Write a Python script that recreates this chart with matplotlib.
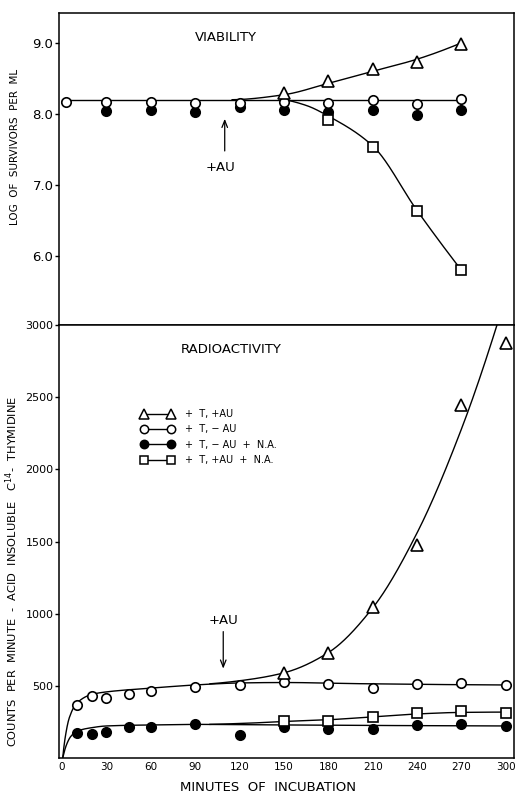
import numpy as np
import matplotlib
matplotlib.use("Agg")
import matplotlib.pyplot as plt
from matplotlib.lines import Line2D

plt.rcParams['font.family'] = ['DejaVu Sans']

# ---------------- data ----------------
# Viability panel (log survivors per ml)
viab_open_x = [3, 30, 60, 90, 120, 150, 180, 210, 240, 270]
viab_open_y = [8.17, 8.17, 8.17, 8.15, 8.16, 8.17, 8.15, 8.19, 8.14, 8.21]
viab_fill_x = [30, 60, 90, 120, 150, 180, 210, 240, 270]
viab_fill_y = [8.04, 8.06, 8.03, 8.10, 8.06, 8.02, 8.06, 7.99, 8.06]
viab_tri_x = [150, 180, 210, 240, 270]
viab_tri_y = [8.29, 8.46, 8.63, 8.73, 8.99]
viab_sq_x = [180, 210, 240, 270]
viab_sq_y = [7.92, 7.54, 6.64, 5.81]

# fitted curves (viability)
viab_ctrl_fit_x = [0, 270]
viab_ctrl_fit_y = [8.2, 8.2]
viab_tri_fit_x = [115, 150, 180, 210, 240, 270]
viab_tri_fit_y = [8.2, 8.27, 8.43, 8.60, 8.77, 9.0]
viab_sq_fit_x = [150, 165, 180, 210, 240, 270]
viab_sq_fit_y = [8.2, 8.12, 7.97, 7.55, 6.64, 5.80]

# Radioactivity panel (counts per minute)
rad_open_x = [10, 20, 30, 45, 60, 90, 120, 150, 180, 210, 240, 270, 300]
rad_open_y = [367, 430, 416, 444, 464, 492, 506, 525, 514, 485, 512, 520, 508]
rad_fill_x = [10, 20, 30, 45, 60, 90, 120, 150, 180, 210, 240, 270, 300]
rad_fill_y = [173, 166, 180, 213, 213, 236, 160, 213, 203, 203, 228, 233, 222]
rad_tri_x = [150, 180, 210, 240, 270, 300]
rad_tri_y = [590, 728, 1045, 1476, 2446, 2876]
rad_sq_x = [150, 180, 210, 240, 270, 300]
rad_sq_y = [256, 256, 286, 309, 328, 309]

# fitted curves (radioactivity)
rad_open_fit_x = [0.5, 2, 5, 10, 20, 30, 60, 90, 120, 150, 200, 300]
rad_open_fit_y = [0, 130, 280, 380, 440, 458, 484, 506, 520, 523, 515, 506]
rad_tri_fit_x = [100, 120, 150, 180, 210, 240, 270, 294]
rad_tri_fit_y = [514, 535, 590, 730, 1040, 1560, 2280, 3000]
rad_fill_fit_x = [0.5, 3, 6, 10, 20, 30, 60, 90, 120, 200, 300]
rad_fill_fit_y = [0, 90, 150, 185, 210, 222, 229, 233, 231, 226, 222]
rad_sq_fit_x = [100, 130, 150, 180, 210, 240, 270, 300]
rad_sq_fit_y = [233, 243, 253, 265, 285, 305, 316, 318]

x_ticks = [0, 30, 60, 90, 120, 150, 180, 210, 240, 270, 300]
viab_ticks = [6.0, 7.0, 8.0, 9.0]
rad_ticks = [500, 1000, 1500, 2000, 2500, 3000]

legend_labels = ["+  T, +AU", "+  T, \u2212 AU", "+  T, \u2212 AU  +  N.A.",
                 "+  T, +AU  +  N.A."]


def pchip(x, y, xs):
    x = np.asarray(x, float)
    y = np.asarray(y, float)
    h = np.diff(x)
    d = np.diff(y) / h
    n = len(x)
    m = np.zeros(n)
    if n == 2:
        m[:] = d[0]
    else:
        for k in range(1, n - 1):
            if d[k - 1] * d[k] <= 0:
                m[k] = 0.0
            else:
                w1 = 2 * h[k] + h[k - 1]
                w2 = h[k] + 2 * h[k - 1]
                m[k] = (w1 + w2) / (w1 / d[k - 1] + w2 / d[k])

        def endslope(h0, h1, d0, d1):
            s = ((2 * h0 + h1) * d0 - h0 * d1) / (h0 + h1)
            if np.sign(s) != np.sign(d0):
                s = 0.0
            elif np.sign(d0) != np.sign(d1) and abs(s) > abs(3 * d0):
                s = 3 * d0
            return s
        m[0] = endslope(h[0], h[1], d[0], d[1])
        m[-1] = endslope(h[-1], h[-2], d[-1], d[-2])
    xs = np.asarray(xs, float)
    idx = np.clip(np.searchsorted(x, xs) - 1, 0, n - 2)
    t = (xs - x[idx]) / h[idx]
    h00 = 2 * t**3 - 3 * t**2 + 1
    h10 = t**3 - 2 * t**2 + t
    h01 = -2 * t**3 + 3 * t**2
    h11 = t**3 - t**2
    return h00 * y[idx] + h10 * h[idx] * m[idx] + h01 * y[idx + 1] + h11 * h[idx] * m[idx + 1]


def curve(ax, xs, ys, **kw):
    xx = np.linspace(xs[0], xs[-1], 400)
    ax.plot(xx, pchip(xs, ys, xx), color='black', lw=1.0, zorder=2, **kw)


fig = plt.figure(figsize=(5.17, 7.94), dpi=100)
L, R = 59 / 517, 514 / 517
top_top = 1 - 13 / 794
mid = 1 - 325 / 794
bot = 1 - 758 / 794
ax1 = fig.add_axes([L, mid, R - L, top_top - mid])
ax2 = fig.add_axes([L, bot, R - L, mid - bot], sharex=ax1)

mk = dict(linestyle='none', markeredgecolor='black', markeredgewidth=1.2, zorder=3)
open_kw = dict(marker='o', markersize=6.8, markerfacecolor='white', **mk)
fill_kw = dict(marker='o', markersize=6.8, markerfacecolor='black', **mk)
tri_kw = dict(marker='^', markersize=8.2, markerfacecolor='white', **mk)
sq_kw = dict(marker='s', markersize=6.8, markerfacecolor='white', **mk)

# ---- top: viability ----
curve(ax1, viab_ctrl_fit_x, viab_ctrl_fit_y)
curve(ax1, viab_tri_fit_x, viab_tri_fit_y)
curve(ax1, viab_sq_fit_x, viab_sq_fit_y)
ax1.plot(viab_fill_x, viab_fill_y, **fill_kw)
ax1.plot(viab_open_x, viab_open_y, **open_kw)
ax1.plot(viab_tri_x, viab_tri_y, **tri_kw)
ax1.plot(viab_sq_x, viab_sq_y, **sq_kw)

ax1.set_ylim(5.03, 9.42)
ax1.set_yticks(viab_ticks)
ax1.set_yticklabels([f"{v:.1f}" for v in viab_ticks], fontsize=9.5)
ax1.tick_params(axis='y', direction='out', length=3, width=1, pad=1)
ax1.tick_params(axis='x', which='both', length=0, labelbottom=False)
ax1.set_ylabel("LOG  OF  SURVIVORS  PER  ML", fontsize=7.5)
ax1.yaxis.set_label_coords(-0.086, 0.57)
ax1.text(111, 9.07, "VIABILITY", fontsize=9.5, ha='center', va='center')
ax1.annotate("", xy=(110, 7.97), xytext=(110, 7.44),
             arrowprops=dict(arrowstyle='->,head_length=0.5,head_width=0.2', lw=0.9, color='black'))
ax1.text(107, 7.24, "+AU", fontsize=9.5, ha='center', va='center')

# ---- bottom: radioactivity ----
curve(ax2, rad_open_fit_x, rad_open_fit_y)
curve(ax2, rad_tri_fit_x, rad_tri_fit_y)
curve(ax2, rad_fill_fit_x, rad_fill_fit_y)
curve(ax2, rad_sq_fit_x, rad_sq_fit_y)
ax2.plot(rad_fill_x, rad_fill_y, **fill_kw)
ax2.plot(rad_open_x, rad_open_y, **open_kw)
ax2.plot(rad_tri_x, rad_tri_y, **tri_kw)
ax2.plot(rad_sq_x, rad_sq_y, **sq_kw)

ax2.set_ylim(0, 3000)
ax2.set_xlim(-2, 305.5)
ax2.set_yticks(rad_ticks)
ax2.set_yticklabels([str(v) for v in rad_ticks], fontsize=8)
ax2.set_xticks(x_ticks)
ax2.set_xticklabels([str(v) for v in x_ticks], fontsize=7.5)
ax2.tick_params(axis='y', direction='out', length=3, width=1, pad=1)
ax2.tick_params(axis='x', length=0, pad=3)
ax2.set_xlabel("MINUTES  OF  INCUBATION", fontsize=9.5, va='center')
ax2.xaxis.set_label_coords(0.46, -0.068)
ax2.set_ylabel("COUNTS  PER  MINUTE  -  ACID  INSOLUBLE   C$^{14}$-  THYMIDINE",
               fontsize=8.2)
ax2.yaxis.set_label_coords(-0.086, 0.43)
ax2.text(80, 2827, "RADIOACTIVITY", fontsize=9.5, ha='left', va='center')
ax2.annotate("", xy=(109, 600), xytext=(109, 895),
             arrowprops=dict(arrowstyle='->,head_length=0.5,head_width=0.2', lw=0.9, color='black'))
ax2.text(109, 950, "+AU", fontsize=9.5, ha='center', va='center')

lk = dict(color='black', lw=1.0, markeredgecolor='black', markeredgewidth=1.1)
handles = [
    Line2D([], [], marker='^', markersize=7, markerfacecolor='white', **lk),
    Line2D([], [], marker='o', markersize=6, markerfacecolor='white', **lk),
    Line2D([], [], marker='o', markersize=6, markerfacecolor='black', **lk),
    Line2D([], [], marker='s', markersize=6, markerfacecolor='white', **lk),
]
ax2.legend(handles, legend_labels, loc='upper left', bbox_to_anchor=(0.18, 0.806),
           frameon=False, numpoints=2, handlelength=3.4, handletextpad=1.1,
           labelspacing=0.55, fontsize=7, borderpad=0, borderaxespad=0)

for ax in (ax1, ax2):
    for s in ax.spines.values():
        s.set_linewidth(1.1)
        s.set_color('black')

fig.savefig("out.png", dpi=100)
